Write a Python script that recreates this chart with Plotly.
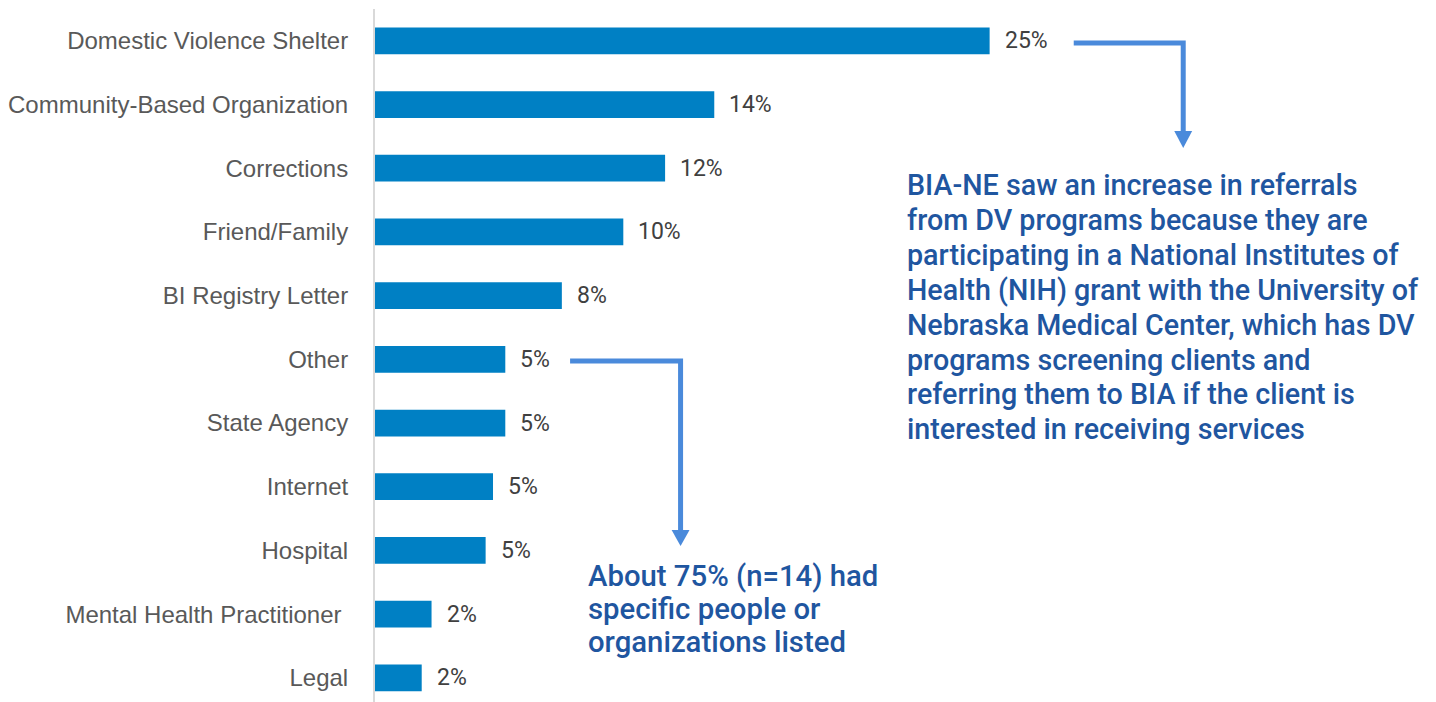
import plotly.graph_objects as go

categories = ["Domestic Violence Shelter", "Community-Based Organization", "Corrections",
              "Friend/Family", "BI Registry Letter", "Other", "State Agency", "Internet",
              "Hospital", "Mental Health Practitioner ", "Legal"]
values = [25.0, 13.8, 11.8, 10.1, 7.6, 5.3, 5.3, 4.8, 4.5, 2.3, 1.9]
value_labels = ["25%", "14%", "12%", "10%", "8%", "5%", "5%", "5%", "5%", "2%", "2%"]

note_dv = ["BIA-NE saw an increase in referrals",
           "from DV programs because they are",
           "participating in a National Institutes of",
           "Health (NIH) grant with the University of",
           "Nebraska Medical Center, which has DV",
           "programs screening clients and",
           "referring them to BIA if the client is",
           "interested in receiving services"]
note_other = ["About 75% (n=14) had", "specific people or", "organizations listed"]

OFF = 8  # page body margin
W, H = 1436, 702
ML, MT, MB = 370 - OFF, 9 - OFF, OFF
MR = 0
PW, PH = W - ML - MR, H - MT - MB

def px(x):
    return (x - OFF - ML) / PW

def py(y):
    return (H - MB - (y - OFF)) / PH

BAR = "#0080C4"
ARROW = "#4A8ADB"
NOTE = "#1F56A0"

pos = list(range(len(categories)))
fig = go.Figure(go.Bar(x=values, y=pos, orientation="h", marker_color=BAR,
                       marker_line_width=0, width=0.42, hoverinfo="skip"))

annotations = []
for v, lab, p in zip(values, value_labels, pos):
    annotations.append(dict(x=v, y=p, xref="x", yref="y", text=lab, showarrow=False,
                            xanchor="left", yanchor="middle", xshift=13,
                            font=dict(family="Roboto", size=23, color="#404040")))

for i, line in enumerate(note_dv):
    annotations.append(dict(x=px(902), y=py(185 + i * 34.9), xref="paper", yref="paper",
                            text=line, showarrow=False, xanchor="left", yanchor="middle",
                            font=dict(family="Roboto", size=28.7, color=NOTE, weight=500)))
for i, line in enumerate(note_other):
    annotations.append(dict(x=px(582), y=py(576 + i * 33), xref="paper", yref="paper",
                            text=line, showarrow=False, xanchor="left", yanchor="middle",
                            font=dict(family="Roboto", size=29.3, color=NOTE, weight=500)))

def elbow(x0, y0, x1, y1, tip):
    path = f"M {px(x0)},{py(y0)} L {px(x1)},{py(y0)} L {px(x1)},{py(y1)}"
    head = (f"M {px(x1-9)},{py(y1)} L {px(x1+9)},{py(y1)} L {px(x1)},{py(tip)} Z")
    return [dict(type="path", xref="paper", yref="paper", path=path,
                 line=dict(color=ARROW, width=5)),
            dict(type="path", xref="paper", yref="paper", path=head,
                 line=dict(color=ARROW, width=0), fillcolor=ARROW)]

shapes = elbow(1072, 43, 1182, 131, 148) + elbow(566, 361, 677, 530, 546)

fig.update_layout(
    width=W, height=H, margin=dict(l=ML, r=MR, t=MT, b=MB),
    plot_bgcolor="white", paper_bgcolor="white", showlegend=False,
    annotations=annotations, shapes=shapes,
    xaxis=dict(range=[0, PW / 24.7], visible=False, fixedrange=True),
    yaxis=dict(range=[10.38, -0.5], tickmode="array", tickvals=pos, ticktext=categories,
               showline=True, linecolor="#D9D9D9", linewidth=2, showgrid=False,
               zeroline=False, ticks="", ticklabelstandoff=20,
               tickfont=dict(family="Liberation Sans, Arial", size=24, color="#595959")),
)

fig.write_html("out.html")
